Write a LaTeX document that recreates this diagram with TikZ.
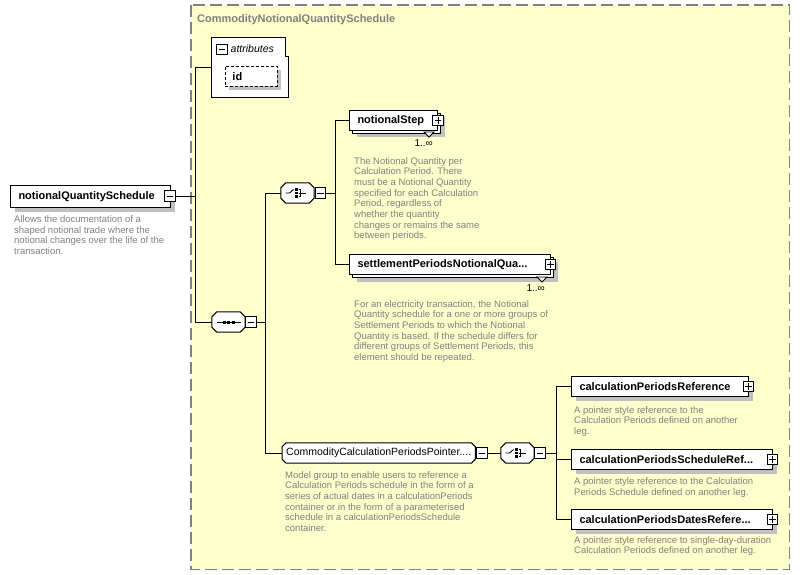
\documentclass[tikz,border=0pt]{standalone}
\usepackage{fontspec}
\setmainfont{Liberation Sans}
\usetikzlibrary{shadows,calc,backgrounds}
\definecolor{bgyellow}{RGB}{255,255,204}
\definecolor{shgray}{RGB}{192,192,192}
\definecolor{txtgray}{RGB}{128,128,128}
\definecolor{bordergray}{RGB}{128,128,128}
\begin{document}
\begin{tikzpicture}[x=1pt,y=-1pt,
  conn/.style={line width=1pt},
  shadowed/.style={drop shadow={shadow xshift=4pt,shadow yshift=-4pt,fill=shgray,opacity=1}},
  elem/.style={draw,fill=white,line width=1pt,anchor=north west,inner xsep=8pt,inner ysep=0pt,
    align=left,font=\bfseries\fontsize{11}{13}\selectfont,shadowed},
  multi/.style={draw,fill=white,line width=1pt,anchor=north west,inner xsep=8pt,inner ysep=0pt,
    align=left,font=\bfseries\fontsize{11}{13}\selectfont,
    drop shadow={shadow xshift=7pt,shadow yshift=-7pt,fill=shgray,opacity=1},
    copy shadow={shadow xshift=3pt,shadow yshift=-3pt}},
  octo/.style={rectangle,inner sep=0pt,minimum width=33pt,minimum height=20pt},
  pm/.style={draw,fill=white,line width=1pt,inner sep=0pt,minimum size=10.5pt},
  minusbox/.style={pm,path picture={\draw[line width=0.9pt] ([xshift=2pt]path picture bounding box.west) -- ([xshift=-2pt]path picture bounding box.east);}},
  plusbox/.style={pm,path picture={\draw[line width=0.9pt] ([xshift=2pt]path picture bounding box.west) -- ([xshift=-2pt]path picture bounding box.east);
     \draw[line width=0.9pt] ([yshift=-2pt]path picture bounding box.north) -- ([yshift=2pt]path picture bounding box.south);}},
  desc/.style={anchor=north west,inner sep=0pt,align=left,text=txtgray,font=\fontsize{9.5}{10.67}\selectfont},
  mult/.style={anchor=base east,inner sep=0pt,font=\fontsize{10}{12}\selectfont},
  tri/.style={draw,fill=white,line width=0.8pt},
  icon/.style={line width=0.9pt}
]
\useasboundingbox (0,0) rectangle (800,575);

% container
\node[anchor=north west,minimum width=598pt,minimum height=564pt,inner sep=0pt] (bgbox) at (191,5) {};
\node[anchor=base west,inner sep=0pt,text=txtgray,font=\bfseries\fontsize{11}{13}\selectfont] (title) at (197,22.5) {CommodityNotionalQuantitySchedule};

% attributes
\node[anchor=north west,minimum width=77pt,minimum height=59pt,inner sep=0pt] (attrs) at (211,38) {};
\draw[line width=1pt,fill=white] (attrs.north west) -- ($(attrs.north east)+(-3,0)$) -- ($(attrs.north east)+(-3,19)$)
  -- ($(attrs.north east)+(0,19)$) -- (attrs.south east) -- (attrs.south west) -- cycle;
\node[minusbox] (attrsb) at (222,49.5) {};
\node[anchor=base west,inner sep=0pt,font=\itshape\fontsize{10.5}{12}\selectfont] (attrst) at (230.5,52.5) {attributes};
\node[draw,dash pattern=on 3pt off 2pt,line width=0.9pt,fill=white,anchor=north west,minimum width=52pt,minimum height=20pt,
  inner xsep=7pt,inner ysep=0pt,text width=38pt,align=left,font=\bfseries\fontsize{11}{13}\selectfont,shadowed] (id) at (225,66) {id};

% root element
\node[elem,text width=144pt,minimum height=22pt] (nqs) at (10,185) {notionalQuantitySchedule};
\node[minusbox] (nqsb) at (170,196) {};
\node[desc] (nqsd) at (14,215.5) {Allows the documentation of a\\shaped notional trade where the\\notional changes over the life of the\\transaction.};

% sequence
\node[octo] (seq) at (228.5,322) {};
\node[minusbox] (seqb) at (251,322) {};

% choice 1
\node[octo] (ch1) at (297.5,193) {};
\node[minusbox] (ch1b) at (320.5,193) {};

% notionalStep
\node[multi,text width=72pt,minimum height=20pt] (ns) at (349,110) {notionalStep};
\node[plusbox] (nsb) at (438,120.5) {};
\draw[tri] (424,132) -- (434,132) -- (429,137) -- cycle;
\node[mult] (nsm) at (433,146.7) {1..∞};
\node[desc] (nsd) at (354,157) {The Notional Quantity per\\Calculation Period. There\\must be a Notional Quantity\\specified for each Calculation\\Period, regardless of\\whether the quantity\\changes or remains the same\\between periods.};

% settlement
\node[multi,text width=185pt,minimum height=20pt] (sp) at (349,254) {settlementPeriodsNotionalQua...};
\node[plusbox] (spb) at (550.5,264.5) {};
\draw[tri] (537,277) -- (547,277) -- (542,282) -- cycle;
\node[mult] (spm) at (545,291) {1..∞};
\node[desc] (spd) at (354,300) {For an electricity transaction, the Notional\\Quantity schedule for a one or more groups of\\Settlement Periods to which the Notional\\Quantity is based. If the schedule differs for\\different groups of Settlement Periods, this\\element should be repeated.};

% pointer group
\node[octo,minimum width=193pt,anchor=west,inner xsep=3pt,font=\fontsize{10.5}{12}\selectfont] (ptr) at (282,453) {CommodityCalculationPeriodsPointer....};
\node[minusbox] (ptrb) at (482,453) {};
\node[desc] (ptrd) at (285,471) {Model group to enable users to reference a\\Calculation Periods schedule in the form of a\\series of actual dates in a calculationPeriods\\container or in the form of a parameterised\\schedule in a calculationPeriodsSchedule\\container.};

% choice 2
\node[octo] (ch2) at (517.5,453) {};
\node[minusbox] (ch2b) at (540,453) {};

% octagon outlines, shadows and background (behind)
\begin{pgfonlayer}{background}
  \fill[white] (0,0) rectangle (800,575);
  \draw[draw=bordergray,fill=bgyellow,line width=1.5pt,dash pattern=on 12pt off 5pt] (bgbox.north west) rectangle (bgbox.south east);
  \foreach \n/\c in {seq/5,ch1/5,ch2/5,ptr/4}{
    \fill[shgray,shift={(4,4)}] ($(\n.north west)+(\c,0)$) -- ($(\n.north east)+(-\c,0)$) -- ($(\n.north east)+(0,\c)$)
      -- ($(\n.south east)+(0,-\c)$) -- ($(\n.south east)+(-\c,0)$) -- ($(\n.south west)+(\c,0)$)
      -- ($(\n.south west)+(0,-\c)$) -- ($(\n.north west)+(0,\c)$) -- cycle;
    \draw[line width=1pt,fill=white] ($(\n.north west)+(\c,0)$) -- ($(\n.north east)+(-\c,0)$) -- ($(\n.north east)+(0,\c)$)
      -- ($(\n.south east)+(0,-\c)$) -- ($(\n.south east)+(-\c,0)$) -- ($(\n.south west)+(\c,0)$)
      -- ($(\n.south west)+(0,-\c)$) -- ($(\n.north west)+(0,\c)$) -- cycle;
  }
\end{pgfonlayer}

% icon glyphs
\draw[icon] ($(seq.center)+(-12,0)$) -- ($(seq.center)+(12,0)$);
\foreach \dx in {-4.5,0,4.5} \fill ($(seq.center)+(\dx-1.5,-1.5)$) rectangle ++(3,3);
\foreach \n in {ch1,ch2}{
  \draw[icon] ($(\n.center)+(-12,0)$) -- ($(\n.center)+(-8,0)$) -- ($(\n.center)+(-4,-3.5)$);
  \foreach \dy in {-3.5,0,3.5} \fill ($(\n.center)+(-2.5,\dy-1.25)$) rectangle ++(2.5,2.5);
  \draw[icon] ($(\n.center)+(1,-3.5)$) -- ($(\n.center)+(3,-3.5)$) -- ($(\n.center)+(3,3.5)$) -- ($(\n.center)+(1,3.5)$);
  \draw[icon] ($(\n.center)+(1,0)$) -- ($(\n.center)+(8,0)$);
}

% right elements
\node[elem,text width=161pt,minimum height=20pt] (cpr) at (571,376) {calculationPeriodsReference};
\node[plusbox] (cprb) at (748.5,386.5) {};
\node[desc] (cprd) at (574,406) {A pointer style reference to the\\Calculation Periods defined on another\\leg.};

\node[elem,text width=185pt,minimum height=20pt] (cpsr) at (571,449) {calculationPeriodsScheduleRef...};
\node[plusbox] (cpsrb) at (772.5,459.5) {};
\node[desc] (cpsrd) at (574,477.5) {A pointer style reference to the Calculation\\Periods Schedule defined on another leg.};

\node[elem,text width=185pt,minimum height=20pt] (cpdr) at (571,509) {calculationPeriodsDatesRefere...};
\node[plusbox] (cpdrb) at (772.5,519.5) {};
\node[desc] (cpdrd) at (574,536) {A pointer style reference to single-day-duration\\Calculation Periods defined on another leg.};

% spines
\coordinate (s1) at (195,0);
\coordinate (s2) at (265,0);
\coordinate (s3) at (335,0);
\coordinate (s4) at (556,0);

% connectors
\draw[conn] (nqsb.east) -- (nqsb.east -| s1);
\draw[conn] (attrs.west) -| (s1 |- seq.west) -- (seq.west);
\draw[conn] (seqb.east) -- (seqb.east -| s2);
\draw[conn] (ch1.west) -| (s2 |- ptr.west) -- (ptr.west);
\draw[conn] (ch1b.east) -- (ch1b.east -| s3);
\draw[conn] (ns.west) -| (s3 |- sp.west) -- (sp.west);
\draw[conn] (ptrb.east) -- (ch2.west);
\draw[conn] (ch2b.east) -- (ch2b.east -| s4);
\draw[conn] (cpr.west) -| (s4 |- cpdr.west) -- (cpdr.west);
\draw[conn] (s4 |- cpsr.west) -- (cpsr.west);
\end{tikzpicture}
\end{document}
